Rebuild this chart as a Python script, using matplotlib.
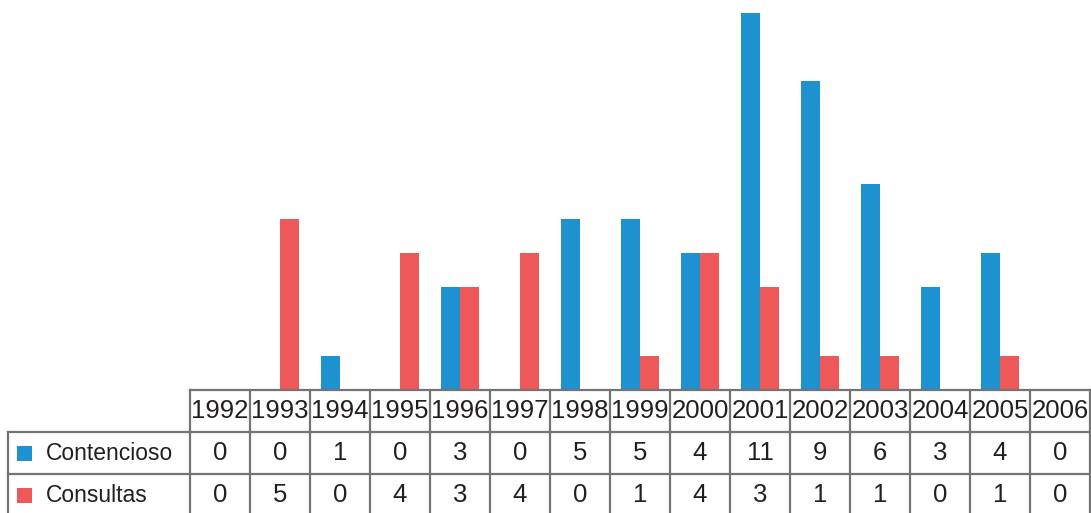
import matplotlib
matplotlib.use("Agg")
import matplotlib.pyplot as plt
from matplotlib.patches import Rectangle

plt.rcParams["font.family"] = ["Liberation Sans", "DejaVu Sans"]

years = ["1992", "1993", "1994", "1995", "1996", "1997", "1998", "1999",
         "2000", "2001", "2002", "2003", "2004", "2005", "2006"]
contencioso = [0, 0, 1, 0, 3, 0, 5, 5, 4, 11, 9, 6, 3, 4, 0]
consultas = [0, 5, 0, 4, 3, 4, 0, 1, 4, 3, 1, 1, 0, 1, 0]
series_names = ["Contencioso", "Consultas"]

BLUE = "#1e91d1"
RED = "#ef5858"
GRID = "#747474"
TXT = "#231f20"

W, H = 1091, 513
fig = plt.figure(figsize=(W / 100, H / 100), dpi=100)

# table geometry in pixels
x0, cw = 190, 60
lab_x = 8
y_head, rh = 390, 42
n = len(years)

# bar axes: baseline at y_head, category width cw
unit = 34.3  # px per count
ax = fig.add_axes([x0 / W, 1 - y_head / H, n * cw / W, y_head / H])
idx = list(range(n))
bw = 0.31
ax.bar([i - bw / 2 for i in idx], contencioso, width=bw, color=BLUE, linewidth=0)
ax.bar([i + bw / 2 for i in idx], consultas, width=bw, color=RED, linewidth=0)
ax.set_xlim(-0.5, n - 0.5)
ax.set_ylim(0, y_head / unit)
ax.axis("off")

# table axes in pixel coordinates
tx = fig.add_axes([0, 0, 1, 1])
tx.set_xlim(0, W)
tx.set_ylim(H, 0)
tx.axis("off")

lw = 1.6
right = x0 + n * cw
# horizontal lines
tx.plot([x0, right], [y_head, y_head], color=GRID, lw=lw)
for r in (1, 2, 3):
    tx.plot([lab_x, right], [y_head + r * rh] * 2, color=GRID, lw=lw)
# vertical lines
for k in range(n + 1):
    tx.plot([x0 + k * cw] * 2, [y_head, y_head + 3 * rh], color=GRID, lw=lw)
tx.plot([lab_x, lab_x], [y_head + rh, y_head + 3 * rh], color=GRID, lw=lw)

fs = 18.5
for i, yr in enumerate(years):
    tx.text(x0 + (i + 0.5) * cw, y_head + rh / 2, yr, ha="center", va="center",
            fontsize=fs, color=TXT)

for r, (name, vals, col) in enumerate(zip(series_names, [contencioso, consultas], [BLUE, RED])):
    yc = y_head + (r + 1.5) * rh
    tx.add_patch(Rectangle((17, yc - 7), 15, 15, color=col, linewidth=0))
    tx.text(46, yc, name, ha="left", va="center", fontsize=16.5, color=TXT)
    for i, v in enumerate(vals):
        tx.text(x0 + (i + 0.5) * cw, yc, str(v), ha="center", va="center",
                fontsize=fs, color=TXT)

fig.savefig("out.png", dpi=100)
